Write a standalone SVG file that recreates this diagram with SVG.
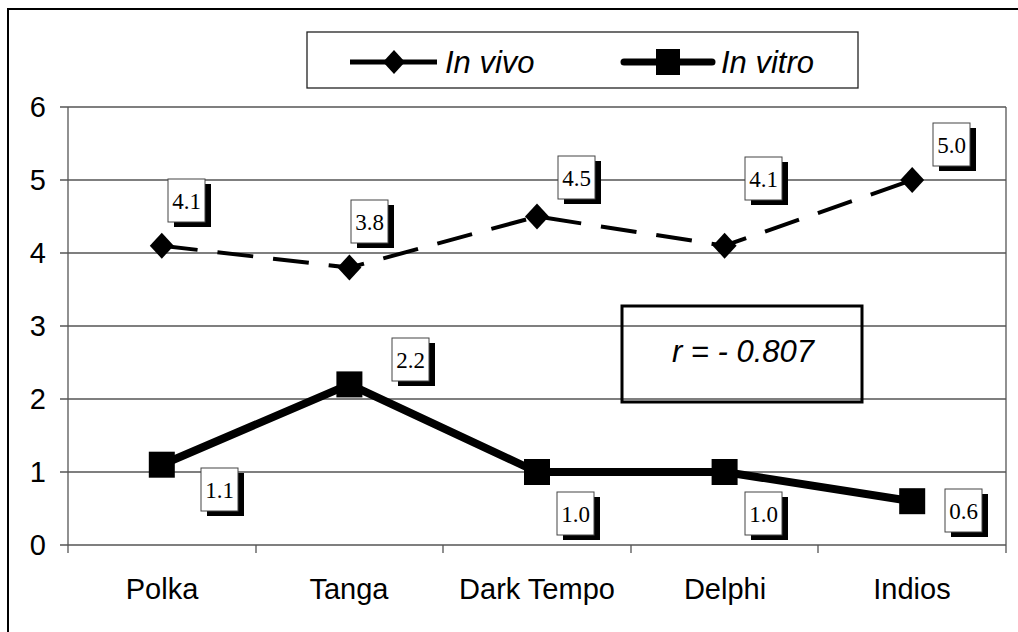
<svg xmlns="http://www.w3.org/2000/svg" width="1018" height="632" viewBox="0 0 1018 632">
<style>
.grid{stroke:#555;stroke-width:1.3;fill:none}
.ax{stroke:#555;stroke-width:1.3;fill:none}
.lbl{font-family:"Liberation Sans",Arial,sans-serif;font-size:29px;fill:#000}
.leg{font-family:"Liberation Sans",Arial,sans-serif;font-size:31px;font-style:italic;fill:#000}
.dl rect.b{fill:#fff;stroke:#444;stroke-width:1}
.dl rect.s{fill:#000}
.dl text{font-family:"Liberation Serif","Times New Roman",serif;font-size:23px;text-anchor:middle;fill:#000}
</style>
<defs>
<path id="dia" d="M0,-13 L12,0 L0,13 L-12,0 Z" fill="#000"/>
<rect id="sq" x="-13" y="-13" width="26" height="26" fill="#000"/>
</defs>
<rect width="1018" height="632" fill="#fff"/>
<rect x="8" y="9" width="1030" height="640" fill="none" stroke="#000" stroke-width="2"/>
<g id="gridlines">
<line class="grid" x1="68" y1="107" x2="1006" y2="107"/>
<line class="grid" x1="68" y1="180" x2="1006" y2="180"/>
<line class="grid" x1="68" y1="253" x2="1006" y2="253"/>
<line class="grid" x1="68" y1="326" x2="1006" y2="326"/>
<line class="grid" x1="68" y1="399" x2="1006" y2="399"/>
<line class="grid" x1="68" y1="472" x2="1006" y2="472"/>
<line class="grid" x1="1006" y1="107" x2="1006" y2="545"/>
</g>
<g id="axes">
<line class="ax" x1="68" y1="107" x2="68" y2="553"/>
<line class="ax" x1="60" y1="545" x2="1006" y2="545"/>
<path class="ax" d="M60,107H68M60,180H68M60,253H68M60,326H68M60,399H68M60,472H68"/>
<path class="ax" d="M256,545V553M443,545V553M631,545V553M818,545V553M1006,545V553"/>
<g class="lbl" text-anchor="end">
<text x="46" y="117">6</text>
<text x="46" y="190">5</text>
<text x="46" y="263">4</text>
<text x="46" y="336">3</text>
<text x="46" y="409">2</text>
<text x="46" y="482">1</text>
<text x="46" y="555">0</text>
</g>
<g class="lbl" text-anchor="middle">
<text x="162" y="599">Polka</text>
<text x="349" y="599">Tanga</text>
<text x="537" y="599">Dark Tempo</text>
<text x="725" y="599">Delphi</text>
<text x="912" y="599">Indios</text>
</g>
</g>
<g id="legend">
<rect x="307" y="32" width="551" height="56" fill="#fff" stroke="#222" stroke-width="1.3"/>
<line x1="350" y1="62" x2="437" y2="62" stroke="#000" stroke-width="5"/>
<path d="M394,50 L405,62 L394,74 L383,62 Z" fill="#000"/>
<text class="leg" x="445" y="73">In vivo</text>
<line x1="624" y1="62" x2="712" y2="62" stroke="#000" stroke-width="7" stroke-linecap="round"/>
<rect x="656" y="49" width="24" height="26" fill="#000"/>
<text class="leg" x="721" y="73">In vitro</text>
</g>
<g id="connectors">
<polyline points="161.8,245.7 349.4,267.6 537,216.5 724.6,245.7 912.2,180" fill="none" stroke="#000" stroke-width="4" stroke-dasharray="36 20"/>
<polyline points="161.8,464.7 349.4,384.4 537,472 724.6,472 912.2,501.2" fill="none" stroke="#000" stroke-width="8" stroke-linejoin="round"/>
</g>
<g id="invivo-markers">
<use href="#dia" x="161.8" y="245.7"/>
<use href="#dia" x="349.4" y="267.6"/>
<use href="#dia" x="537" y="216.5"/>
<use href="#dia" x="724.6" y="245.7"/>
<use href="#dia" x="912.2" y="180"/>
</g>
<g id="invitro-markers">
<use href="#sq" x="161.8" y="464.7"/>
<use href="#sq" x="349.4" y="384.4"/>
<use href="#sq" x="537" y="472"/>
<use href="#sq" x="724.6" y="472"/>
<use href="#sq" x="912.2" y="501.2"/>
</g>
<g id="label-polka-vivo" class="dl"><rect class="s" x="174" y="184" width="37" height="43"/><rect class="b" x="168" y="179" width="37" height="43"/><text x="186.5" y="209">4.1</text></g>
<g id="label-tanga-vivo" class="dl"><rect class="s" x="357" y="205" width="37" height="43"/><rect class="b" x="351" y="200" width="37" height="43"/><text x="369.5" y="230">3.8</text></g>
<g id="label-dark-vivo" class="dl"><rect class="s" x="564" y="161" width="37" height="43"/><rect class="b" x="558" y="156" width="37" height="43"/><text x="576.5" y="186">4.5</text></g>
<g id="label-delphi-vivo" class="dl"><rect class="s" x="751" y="162" width="37" height="43"/><rect class="b" x="745" y="157" width="37" height="43"/><text x="763.5" y="187">4.1</text></g>
<g id="label-indios-vivo" class="dl"><rect class="s" x="939" y="128" width="37" height="43"/><rect class="b" x="933" y="123" width="37" height="43"/><text x="951.5" y="153">5.0</text></g>
<g id="label-polka-vitro" class="dl"><rect class="s" x="207" y="473" width="37" height="43"/><rect class="b" x="201" y="468" width="37" height="43"/><text x="219.5" y="498">1.1</text></g>
<g id="label-tanga-vitro" class="dl"><rect class="s" x="398" y="343" width="37" height="43"/><rect class="b" x="392" y="338" width="37" height="43"/><text x="410.5" y="368">2.2</text></g>
<g id="label-dark-vitro" class="dl"><rect class="s" x="563" y="497" width="37" height="43"/><rect class="b" x="557" y="492" width="37" height="43"/><text x="575.5" y="522">1.0</text></g>
<g id="label-delphi-vitro" class="dl"><rect class="s" x="751" y="497" width="37" height="43"/><rect class="b" x="745" y="492" width="37" height="43"/><text x="763.5" y="522">1.0</text></g>
<g id="label-indios-vitro" class="dl"><rect class="s" x="951" y="494" width="37" height="43"/><rect class="b" x="945" y="489" width="37" height="43"/><text x="963.5" y="519">0.6</text></g>
<g id="r-box">
<rect x="622" y="306" width="240" height="96" fill="none" stroke="#000" stroke-width="3"/>
<text class="leg" x="743" y="362" text-anchor="middle">r = - 0.807</text>
</g>
</svg>
